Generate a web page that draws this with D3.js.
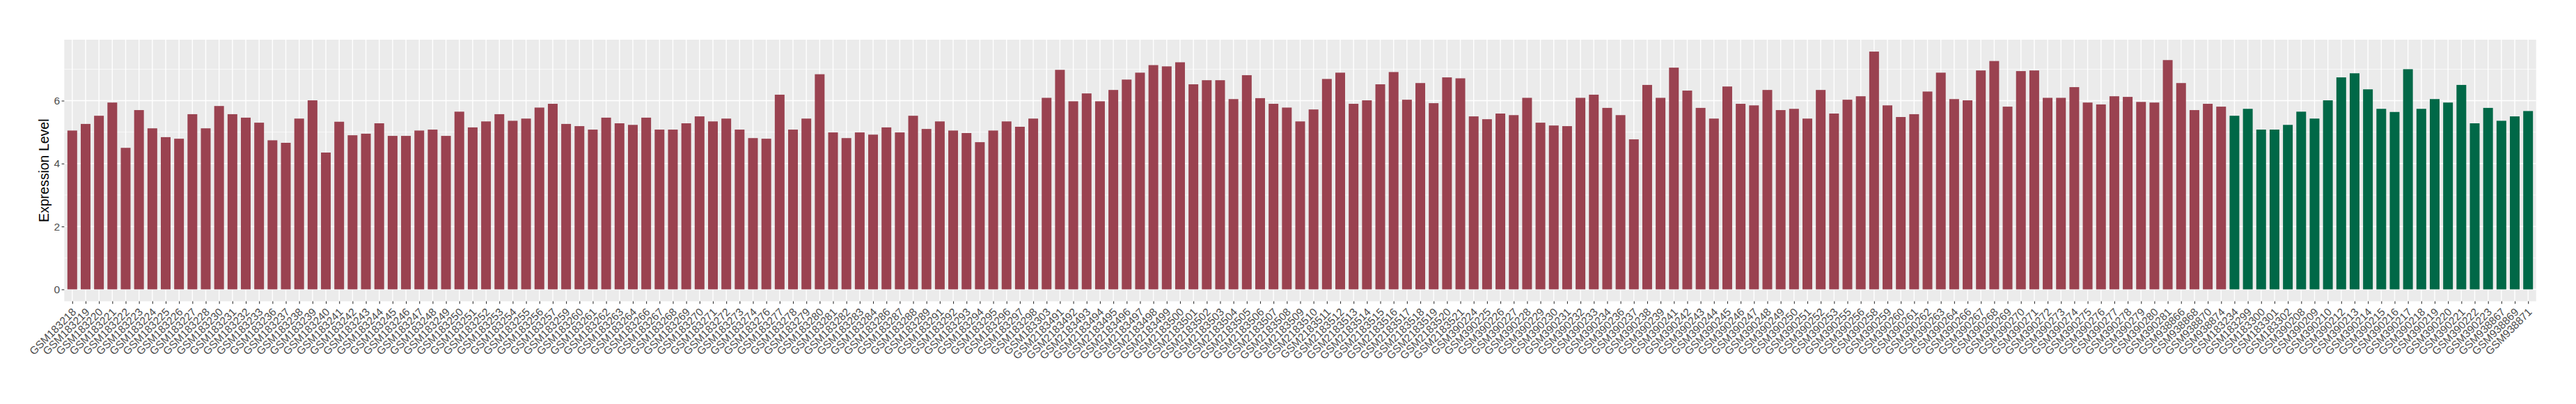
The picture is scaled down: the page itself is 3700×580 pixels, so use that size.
<!DOCTYPE html>
<html>
<head>
<meta charset="utf-8">
<script src="https://cdn.jsdelivr.net/npm/d3@7"></script>
<style>
  html, body { margin: 0; padding: 0; background: #ffffff; }
  svg { display: block; }
</style>
</head>
<body>
<svg id="chart" width="3700" height="580"></svg>
<script>
// ---- DATA ----
const categoriesGroup1 = [
  "GSM183218","GSM183219","GSM183220","GSM183221","GSM183222","GSM183223","GSM183224","GSM183225","GSM183226","GSM183227",
  "GSM183228","GSM183230","GSM183231","GSM183232","GSM183233","GSM183236","GSM183237","GSM183238","GSM183239","GSM183240",
  "GSM183241","GSM183242","GSM183243","GSM183244","GSM183245","GSM183246","GSM183247","GSM183248","GSM183249","GSM183250",
  "GSM183251","GSM183252","GSM183253","GSM183254","GSM183255","GSM183256","GSM183257","GSM183259","GSM183260","GSM183261",
  "GSM183262","GSM183263","GSM183264","GSM183266","GSM183267","GSM183268","GSM183269","GSM183270","GSM183271","GSM183272",
  "GSM183273","GSM183274","GSM183276","GSM183277","GSM183278","GSM183279","GSM183280","GSM183281","GSM183282","GSM183283",
  "GSM183284","GSM183286","GSM183287","GSM183288","GSM183289","GSM183291","GSM183292","GSM183293","GSM183294","GSM183295",
  "GSM183296","GSM183297","GSM183298","GSM183303","GSM2183491","GSM2183492","GSM2183493","GSM2183494","GSM2183495","GSM2183496",
  "GSM2183497","GSM2183498","GSM2183499","GSM2183500","GSM2183501","GSM2183502","GSM2183503","GSM2183504","GSM2183505","GSM2183506",
  "GSM2183507","GSM2183508","GSM2183509","GSM2183510","GSM2183511","GSM2183512","GSM2183513","GSM2183514","GSM2183515","GSM2183516",
  "GSM2183517","GSM2183518","GSM2183519","GSM2183520","GSM2183521","GSM390224","GSM390225","GSM390226","GSM390227","GSM390228",
  "GSM390229","GSM390230","GSM390231","GSM390232","GSM390233","GSM390234","GSM390236","GSM390237","GSM390238","GSM390239",
  "GSM390241","GSM390242","GSM390243","GSM390244","GSM390245","GSM390246","GSM390247","GSM390248","GSM390249","GSM390250",
  "GSM390251","GSM390252","GSM390253","GSM390255","GSM390256","GSM390258","GSM390259","GSM390260","GSM390261","GSM390262",
  "GSM390263","GSM390264","GSM390266","GSM390267","GSM390268","GSM390269","GSM390270","GSM390271","GSM390272","GSM390273",
  "GSM390274","GSM390275","GSM390276","GSM390277","GSM390278","GSM390279","GSM390280","GSM390281","GSM938866","GSM938868",
  "GSM938870","GSM938874"
];
const valuesGroup1 = [
  5.05,5.26,5.52,5.94,4.50,5.70,5.12,4.84,4.79,5.57,
  5.12,5.83,5.57,5.46,5.30,4.74,4.66,5.43,6.01,4.35,
  5.33,4.90,4.95,5.28,4.88,4.88,5.05,5.08,4.88,5.65,
  5.15,5.34,5.57,5.36,5.43,5.78,5.90,5.26,5.19,5.08,
  5.46,5.28,5.23,5.46,5.08,5.08,5.28,5.50,5.34,5.43,
  5.08,4.81,4.79,6.19,5.08,5.43,6.84,4.99,4.81,4.99,
  4.92,5.15,4.99,5.52,5.10,5.34,5.05,4.97,4.68,5.05,
  5.34,5.17,5.43,6.09,6.98,5.98,6.23,5.98,6.34,6.67,
  6.89,7.13,7.09,7.22,6.52,6.65,6.65,6.05,6.81,6.08,
  5.90,5.78,5.34,5.72,6.69,6.89,5.90,6.01,6.52,6.91,
  6.03,6.56,5.92,6.74,6.71,5.50,5.41,5.59,5.54,6.09,
  5.30,5.21,5.19,6.09,6.19,5.77,5.54,4.77,6.50,6.09,
  7.05,6.32,5.77,5.43,6.45,5.90,5.85,6.34,5.70,5.74,
  5.43,6.34,5.59,6.03,6.14,7.56,5.85,5.48,5.57,6.29,
  6.89,6.05,6.01,6.96,7.26,5.81,6.94,6.96,6.09,6.09,
  6.43,5.94,5.88,6.14,6.12,5.96,5.94,7.29,6.56,5.70,
  5.90,5.81
];
const categoriesGroup2 = [
  "GSM183234","GSM183299","GSM183300","GSM183301","GSM183302","GSM390208","GSM390209","GSM390210","GSM390212","GSM390213",
  "GSM390214","GSM390215","GSM390216","GSM390217","GSM390218","GSM390219","GSM390220","GSM390221","GSM390222","GSM390223",
  "GSM938867","GSM938869","GSM938871"
];
const valuesGroup2 = [
  5.52,5.74,5.08,5.08,5.23,5.65,5.43,6.01,6.74,6.87,
  6.36,5.74,5.64,7.00,5.74,6.05,5.94,6.50,5.28,5.77,
  5.36,5.50,5.67
];
const yTicks = [0, 2, 4, 6];
const yMinorTicks = [1, 3, 5, 7];
const yAxisTitle = "Expression Level";
const groupColors = ["#9A4250", "#006847"];

// ---- BUILD ----
const rows = [];
categoriesGroup1.forEach((c, i) => rows.push({ name: c, value: valuesGroup1[i], g: 0 }));
categoriesGroup2.forEach((c, i) => rows.push({ name: c, value: valuesGroup2[i], g: 1 }));

const svg = d3.select("#chart");
const panel = { left: 92.3, right: 3642.7, top: 57, bottom: 432.5 };
const FONT = "'Liberation Sans', Arial, sans-serif";

const maxV = d3.max(rows, d => d.value);
const y = d3.scaleLinear()
  .domain([-0.05 * maxV, 1.05 * maxV])
  .range([panel.bottom, panel.top]);

const x = d3.scalePoint()
  .domain(rows.map(d => d.name))
  .range([panel.left, panel.right])
  .padding(0.6);
const barW = x.step() * 0.73;

svg.append("rect").attr("x", 0).attr("y", 0).attr("width", 3700).attr("height", 580).attr("fill", "#ffffff");

// panel background
svg.append("rect")
  .attr("x", panel.left).attr("y", panel.top)
  .attr("width", panel.right - panel.left).attr("height", panel.bottom - panel.top)
  .attr("fill", "#EBEBEB");

// minor horizontal grid
svg.append("g").selectAll("line").data(yMinorTicks).join("line")
  .attr("x1", panel.left).attr("x2", panel.right)
  .attr("y1", d => y(d)).attr("y2", d => y(d))
  .attr("stroke", "#ffffff").attr("stroke-width", 0.7);

// major horizontal grid
svg.append("g").selectAll("line").data(yTicks).join("line")
  .attr("x1", panel.left).attr("x2", panel.right)
  .attr("y1", d => y(d)).attr("y2", d => y(d))
  .attr("stroke", "#ffffff").attr("stroke-width", 1.4);

// vertical grid
svg.append("g").selectAll("line").data(rows).join("line")
  .attr("x1", d => x(d.name)).attr("x2", d => x(d.name))
  .attr("y1", panel.top).attr("y2", panel.bottom)
  .attr("stroke", "#ffffff").attr("stroke-width", 1.4);

// bars
svg.append("g").selectAll("rect").data(rows).join("rect")
  .attr("x", d => x(d.name) - barW / 2)
  .attr("width", barW)
  .attr("y", d => y(d.value))
  .attr("height", d => y(0) - y(d.value))
  .attr("fill", d => groupColors[d.g]);

// y axis
const yAxis = d3.axisLeft(y).tickValues(yTicks).tickSize(3.7).tickPadding(2.5).tickFormat(d3.format("d"));
const gy = svg.append("g").attr("transform", `translate(${panel.left},0)`).call(yAxis);
gy.select(".domain").remove();
gy.selectAll(".tick line").attr("stroke", "#333333").attr("stroke-width", 1.1);
gy.selectAll(".tick text")
  .attr("fill", "#4D4D4D")
  .style("font-family", FONT)
  .style("font-size", "15.5px");

// x axis
const xAxis = d3.axisBottom(x).tickSize(3.7).tickPadding(0);
const gx = svg.append("g").attr("transform", `translate(0,${panel.bottom})`).call(xAxis);
gx.select(".domain").remove();
gx.selectAll(".tick line").attr("stroke", "#333333").attr("stroke-width", 1.1);
gx.selectAll(".tick text")
  .attr("fill", "#4D4D4D")
  .style("font-family", FONT)
  .style("font-size", "15.5px")
  .attr("text-anchor", "end")
  .attr("dy", null)
  .attr("y", 0)
  .attr("transform", "translate(6,16.5) rotate(-45)");

// y title
svg.append("text")
  .attr("transform", `translate(70,${(panel.top + panel.bottom) / 2}) rotate(-90)`)
  .attr("text-anchor", "middle")
  .style("font-family", FONT)
  .style("font-size", "19.5px")
  .attr("fill", "#000000")
  .text(yAxisTitle);
</script>
</body>
</html>
